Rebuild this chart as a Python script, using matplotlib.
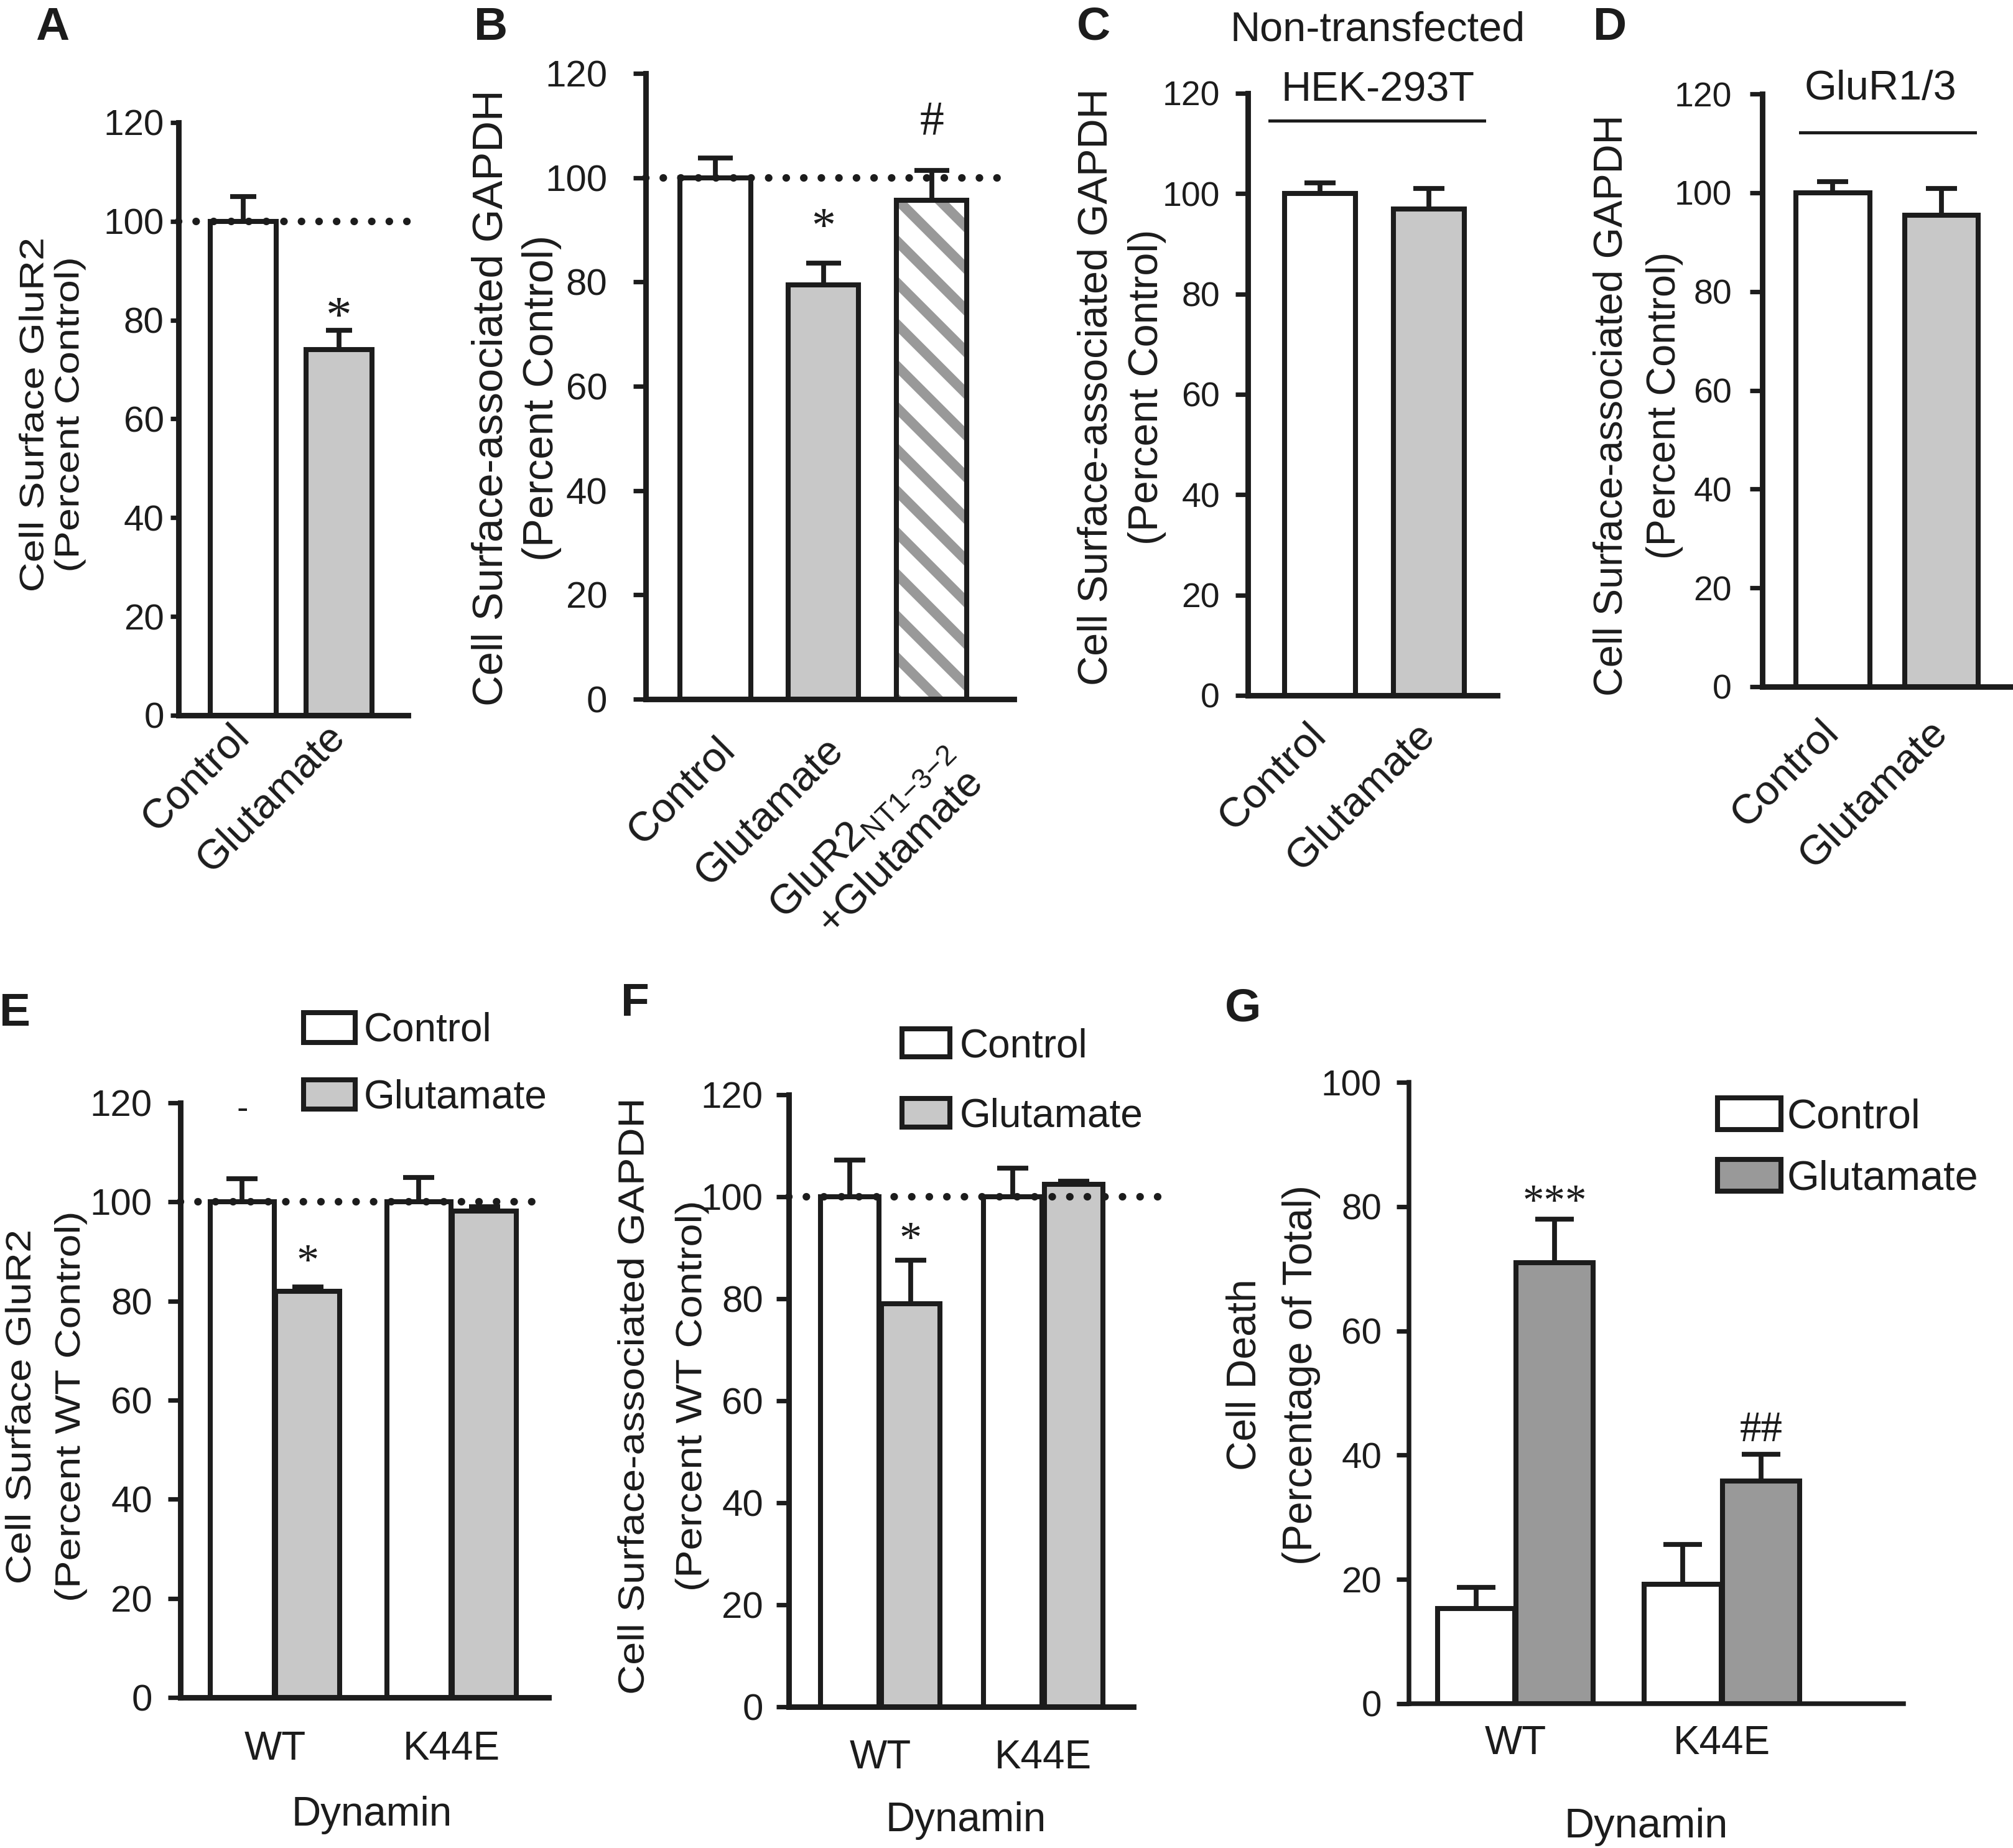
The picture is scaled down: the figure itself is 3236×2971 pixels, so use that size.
import numpy as np
import matplotlib
matplotlib.use('Agg')
import matplotlib.pyplot as plt
from matplotlib.patheffects import AbstractPathEffect
from matplotlib.transforms import Affine2D, IdentityTransform
from matplotlib.lines import Line2D

W, H = 3237, 2971
DPI = 400
plt.rcParams['font.family'] = ['Liberation Sans', 'DejaVu Sans']
plt.rcParams['mathtext.fontset'] = 'custom'
plt.rcParams['mathtext.rm'] = 'Liberation Sans'

BLACK = '#1c1c1c'
LIGHT = '#c8c8c8'
DARK = '#999999'

# ---------------- data ----------------
a_labels = ['Control', 'Glutamate']
a_values = [100, 74]
a_errors = [5, 4]

b_labels = ['Control', 'Glutamate',
            r'GluR2$_{\mathregular{NT1{-}3{-}2}}$' + '\n+Glutamate']
b_values = [100, 79.5, 95.7]
b_errors = [3.8, 4.1, 5.7]

c_labels = ['Control', 'Glutamate']
c_values = [100, 97]
c_errors = [2.2, 4.0]

d_labels = ['Control', 'Glutamate']
d_values = [100, 95.5]
d_errors = [2.2, 5.3]

dyn_groups = ['WT', 'K44E']
series_names = ['Control', 'Glutamate']
e_control = [100, 100]
e_control_err = [4.7, 4.9]
e_glut = [82, 98.2]
e_glut_err = [0.8, 0.8]

f_control = [100, 100]
f_control_err = [7.2, 5.6]
f_glut = [79, 102.4]
f_glut_err = [8.6, 0.7]

g_control = [15.3, 19.2]
g_control_err = [3.4, 6.4]
g_glut = [71, 35.8]
g_glut_err = [7.0, 4.3]

# significance marks: (x position, y value, text)
a_marks = [(1, 83, '*')]
b_marks = [(1, 92.7, '*'), (2, 111.5, '#')]
e_marks = [(-0.185, 118.5, '-'), (0.185, 90, '*')]
f_marks = [(0.187, 93.7, '*')]
g_marks = [(0.19, 82.3, '***'), (1.19, 44.6, '##')]


class Squash(AbstractPathEffect):
    """Compress rendered glyphs horizontally about a display x position."""
    def __init__(self, cx, sx):
        super().__init__()
        self.cx = cx
        self.sx = sx

    def draw_path(self, renderer, gc, tpath, affine, rgbFace=None):
        a = affine + Affine2D().translate(-self.cx, 0).scale(self.sx, 1).translate(self.cx, 0)
        renderer.draw_path(gc, tpath, a, rgbFace)


fig = plt.figure(figsize=(W / DPI, H / DPI), dpi=DPI)
fig.patch.set_facecolor('white')


def px_axes(box):
    l, r, t, b = box
    return fig.add_axes([l / W, 1 - b / H, (r - l) / W, (b - t) / H])


def style(ax, xlim, ylim, yticks, tick_len=3.6, pad=4.5, spine_lw=1.6, labelsize=10.0):
    for s in ['top', 'right']:
        ax.spines[s].set_visible(False)
    for s in ['left', 'bottom']:
        ax.spines[s].set_linewidth(spine_lw)
        ax.spines[s].set_color(BLACK)
    ax.set_xlim(*xlim)
    ax.set_ylim(*ylim)
    ax.set_yticks(yticks)
    ax.tick_params(axis='y', direction='out', length=tick_len, width=1.3,
                   pad=pad, labelsize=labelsize, colors=BLACK)
    ax.tick_params(axis='x', length=0, colors=BLACK)
    ax.set_facecolor('none')


def rot_labels(ax, x, labels, pad, size=12, va='center'):
    ax.set_xticks(x)
    ax.set_xticklabels(labels, rotation=45, ha='right', va=va,
                       rotation_mode='anchor', fontsize=size)
    ax.tick_params(axis='x', pad=pad)


def ylabel(ax, box, text, cx, cy, size, ls, squash=None):
    l, r, t, b = box
    ax.set_ylabel(text, fontsize=size, linespacing=ls, color=BLACK)
    ax.yaxis.set_label_coords((cx - l) / (r - l), (b - cy) / (b - t))
    ax.yaxis.label.set_va('center')
    ax.yaxis.label.set_ha('center')
    if squash:
        ax.yaxis.label.set_path_effects([Squash(cx, squash)])


def xlabel(ax, box, text, cx, cy, size):
    l, r, t, b = box
    ax.set_xlabel(text, fontsize=size, color=BLACK)
    ax.xaxis.set_label_coords((cx - l) / (r - l), (b - cy) / (b - t))
    ax.xaxis.label.set_va('center')


def errs(ax, x, y, e, capsize=4.5):
    ax.errorbar(x, y, yerr=[np.zeros(len(e)), e], fmt='none', ecolor=BLACK,
                elinewidth=1.4, capsize=capsize, capthick=1.4, zorder=1.5)


def marks(ax, mk, serif_size=13):
    for x, y, s in mk:
        if s == '-':
            ax.annotate(s, (x, y), ha='center', va='center', fontsize=10, color=BLACK)
            continue
        off = 0.27 * serif_size if '*' in s else 0.1 * serif_size
        ax.annotate(s, (x, y), xytext=(0, -off), textcoords='offset points',
                    ha='center', va='center', fontsize=serif_size,
                    family='Liberation Serif', color=BLACK)


def dotted(ax, xmax=1.0):
    ax.axhline(100, xmin=0, xmax=xmax, color=BLACK, lw=2.2,
               linestyle=(0, (0.01, 2.3)), dash_capstyle='round', zorder=6,
               clip_on=False)


def letter(x, y, s):
    fig.text(x / W, 1 - y / H, s, fontsize=13.5, fontweight='bold',
             ha='center', va='center', color=BLACK)


def stripes(ax, patch, x_center, width, height, period=67, lw=2.9):
    """Diagonal grey stripes inside a bar, clipped to the bar outline."""
    xl, yb = ax.transData.transform((x_center - width / 2, 0))
    xr, yt = ax.transData.transform((x_center + width / 2, height))
    w = xr - xl
    n = int((yt - yb + w) / period) + 2
    for k in range(n):
        c = yb + k * period
        ln = Line2D([xl - 10, xr + 10], [c + 10, c - w - 10], transform=IdentityTransform(),
                    color=DARK, lw=lw, solid_capstyle='butt', zorder=2.1)
        ax.add_artist(ln)
        ln.set_clip_box(None)
        ln.set_clip_path(patch.get_path(), patch.get_transform())


bar_kw = dict(edgecolor=BLACK, linewidth=1.45, zorder=2)

# ---------------- Panel A ----------------
A_BOX = (287, 656, 197, 1150)
ax = px_axes(A_BOX)
style(ax, (-0.675, 1.72), (0, 120), range(0, 121, 20), tick_len=2.4, pad=1.8, labelsize=10.5)
xa = np.arange(len(a_values))
ax.bar(xa, a_values, 0.69, color=['white', LIGHT], **bar_kw)
errs(ax, xa, a_values, a_errors, capsize=3.8)
dotted(ax, 1.0)
marks(ax, a_marks, serif_size=15)
rot_labels(ax, xa, a_labels, pad=4.5)
ylabel(ax, A_BOX, 'Cell Surface GluR2\n(Percent Control)', 84, 667, 12, 1.15, squash=0.82)
letter(84, 45, 'A')

# ---------------- Panel B ----------------
B_BOX = (1038, 1630, 118, 1124)
ax = px_axes(B_BOX)
style(ax, (-0.644, 2.76), (0, 120), range(0, 121, 20), pad=7.5, labelsize=10.8)
xb = np.arange(len(b_values))
bb = ax.bar(xb, b_values, 0.65, color=['white', LIGHT, 'white'], **bar_kw)
stripes(ax, bb[2], xb[2], 0.65, b_values[2])
ax.bar(xb[2], b_values[2], 0.65, facecolor='none', edgecolor=BLACK, linewidth=1.45, zorder=2.2)
errs(ax, xb, b_values, b_errors, capsize=5.0)
dotted(ax, 1.0)
marks(ax, b_marks, serif_size=14)
rot_labels(ax, xb, b_labels, pad=9, va='top')
ylabel(ax, B_BOX, 'Cell Surface-associated GAPDH\n(Percent Control)', 830, 640, 12.4, 1.35)
letter(789, 45, 'B')

# ---------------- Panel C ----------------
C_BOX = (2006, 2407, 150, 1118)
ax = px_axes(C_BOX)
style(ax, (-0.663, 1.629), (0, 120), range(0, 121, 20), pad=4.5)
xc = np.arange(len(c_values))
ax.bar(xc, c_values, 0.65, color=['white', LIGHT], **bar_kw)
errs(ax, xc, c_values, c_errors)
rot_labels(ax, xc, c_labels, pad=9.8)
ylabel(ax, C_BOX, 'Cell Surface-associated GAPDH\n(Percent Control)', 1803, 622, 12, 1.4)
fig.text(2215 / W, 1 - 97 / H, 'Non-transfected\nHEK-293T', fontsize=12, ha='center',
         va='center', linespacing=1.72, color=BLACK)
fig.add_artist(Line2D([2041 / W, 2386 / W], [1 - 194 / H] * 2, transform=fig.transFigure,
                      lw=0.9, color=BLACK))
letter(1758, 44, 'C')

# ---------------- Panel D ----------------
D_BOX = (2833, 3237, 151, 1104)
ax = px_axes(D_BOX)
style(ax, (-0.646, 1.663), (0, 120), range(0, 121, 20), pad=5.2)
xd = np.arange(len(d_values))
ax.bar(xd, d_values, 0.68, color=['white', LIGHT], **bar_kw)
errs(ax, xd, d_values, d_errors)
rot_labels(ax, xd, d_labels, pad=11.5)
ylabel(ax, D_BOX, 'Cell Surface-associated GAPDH\n(Percent Control)', 2633, 652, 11.7, 1.54)
fig.text(3023 / W, 1 - 143 / H, 'GluR1/3', fontsize=12, ha='center', va='center', color=BLACK)
fig.add_artist(Line2D([2894 / W, 3175 / W], [1 - 213 / H] * 2, transform=fig.transFigure,
                      lw=0.9, color=BLACK))
letter(2588, 44, 'D')


# ---------------- grouped panels ----------------
def grouped(box, xlim, ylim, yticks, ctrl, ctrl_err, glu, glu_err, width, off,
            glu_color, pad, tick_pad, capsize=4.5, spine_lw=1.6, labelsize=10.8):
    ax = px_axes(box)
    style(ax, xlim, ylim, yticks, pad=pad, spine_lw=spine_lw, labelsize=labelsize)
    x = np.arange(len(dyn_groups))
    b1 = ax.bar(x - off, ctrl, width, color='white', label=series_names[0], **bar_kw)
    b2 = ax.bar(x + off, glu, width, color=glu_color, label=series_names[1], **bar_kw)
    errs(ax, x - off, ctrl, ctrl_err, capsize)
    errs(ax, x + off, glu, glu_err, capsize)
    ax.set_xticks(x)
    ax.set_xticklabels(dyn_groups, fontsize=11.5)
    ax.tick_params(axis='x', pad=tick_pad)
    return ax, b1, b2


def legend(ax, handles, left, top, fs, hl, hh, tp, ls):
    leg = ax.legend(handles=handles, labels=series_names, loc='upper left',
                    bbox_to_anchor=(left / W, 1 - top / H), bbox_transform=fig.transFigure,
                    frameon=False, fontsize=fs, handlelength=hl, handleheight=hh,
                    handletextpad=tp, labelspacing=ls, borderpad=0, borderaxespad=0)
    for t in leg.get_texts():
        t.set_color(BLACK)


# Panel E
E_BOX = (290, 882, 1773, 2729)
ax, b1, b2 = grouped(E_BOX, (-0.535, 1.549), (0, 120), range(0, 121, 20),
                     e_control, e_control_err, e_glut, e_glut_err, 0.36, 0.185,
                     LIGHT, pad=4.5, tick_pad=9.5)
dotted(ax, 1.0)
marks(ax, e_marks, serif_size=13)
legend(ax, [b1, b2], 488, 1627, 11.5, 1.3, 0.77, 0.22, 0.75)
xlabel(ax, E_BOX, 'Dynamin', 598, 2918, 11.8)
ylabel(ax, E_BOX, 'Cell Surface GluR2\n(Percent WT Control)', 74, 2262, 12, 1.65, squash=0.85)
letter(24, 1630, 'E')

# Panel F
F_BOX = (1268, 1822, 1760, 2744)
ax, b1, b2 = grouped(F_BOX, (-0.561, 1.553), (0, 120), range(0, 121, 20),
                     f_control, f_control_err, f_glut, f_glut_err, 0.36, 0.187,
                     LIGHT, pad=3.8, tick_pad=9.4)
dotted(ax, 1.083)
marks(ax, f_marks, serif_size=13)
legend(ax, [b1, b2], 1450, 1652, 11.5, 1.2, 0.72, 0.25, 0.82)
xlabel(ax, F_BOX, 'Dynamin', 1553, 2927, 11.8)
ylabel(ax, F_BOX, 'Cell Surface-associated GAPDH\n(Percent WT Control)', 1066, 2245, 12, 1.9,
       squash=0.88)
letter(1021, 1614, 'F')

# Panel G
G_BOX = (2265, 3060, 1740, 2739)
ax, b1, b2 = grouped(G_BOX, (-0.515, 1.88), (0, 100), range(0, 101, 20),
                     g_control, g_control_err, g_glut, g_glut_err, 0.373, 0.19,
                     DARK, pad=4.3, tick_pad=6.1, capsize=5.5, spine_lw=1.35, labelsize=10.5)
marks(ax, g_marks, serif_size=12.4)
legend(ax, [b1, b2], 2761, 1765, 12, 1.53, 0.81, 0.15, 0.54)
xlabel(ax, G_BOX, 'Dynamin', 2646, 2937, 12)
ylabel(ax, G_BOX, 'Cell Death\n(Percentage of Total)', 2047, 2210, 11.9, 1.6)
letter(1998, 1622, 'G')

fig.savefig('out.png', dpi=DPI, facecolor='white')
